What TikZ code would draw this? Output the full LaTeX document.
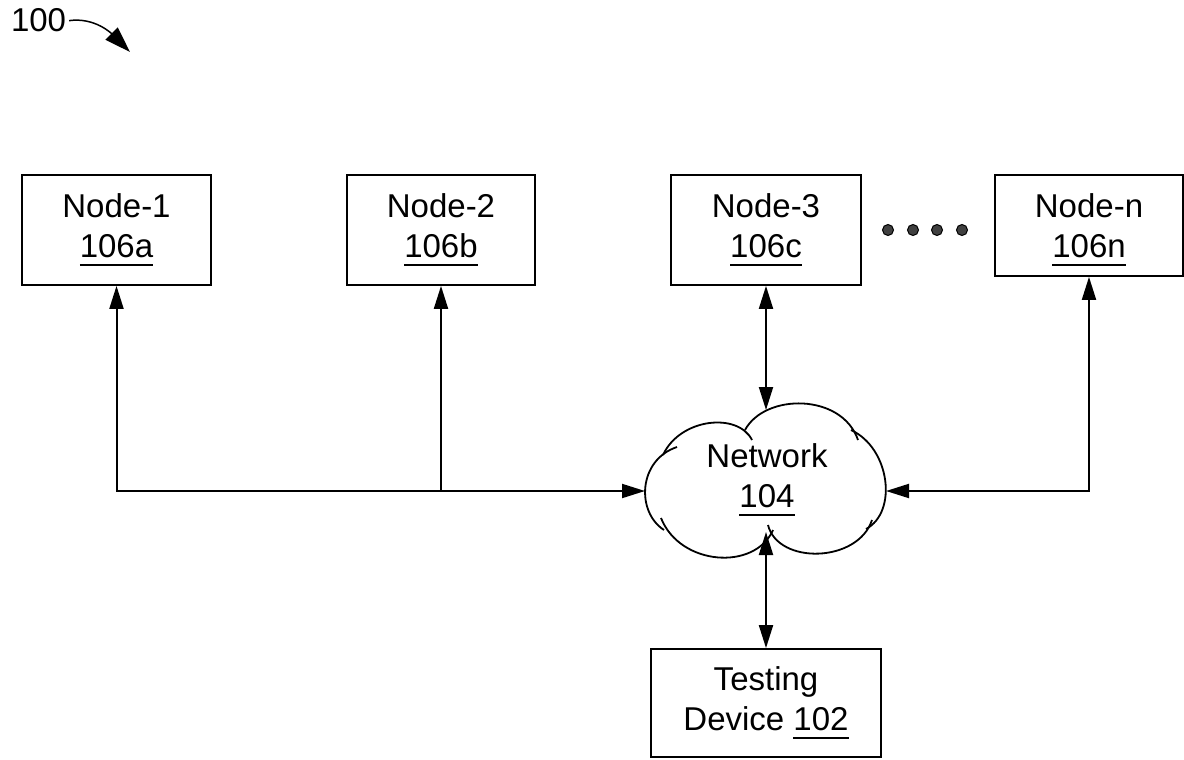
\documentclass[tikz,border=0pt]{standalone}
\usepackage{fontspec}
\setmainfont{Liberation Sans}
\usetikzlibrary{arrows.meta}
\newcommand\myul[1]{\setbox0\hbox{#1}\rlap{\rule[-8pt]{\wd0}{1.8pt}}\box0}
\definecolor{dotgray}{HTML}{404040}
\begin{document}
\begin{tikzpicture}[x=1pt,y=-1pt, line width=2pt,
  lbl/.style={align=center, inner sep=0pt, font=\fontsize{33}{40}\selectfont},
  box/.style={lbl, draw, line width=1.8pt},
  tip/.style={-{Triangle[length=23pt,width=14pt]}},
  both/.style={{Triangle[length=23pt,width=14pt]}-{Triangle[length=23pt,width=14pt]}},
  cloudline/.style={line width=1.8pt}]
\useasboundingbox (0,0) rectangle (1184,760);

% reference label
\node[lbl, anchor=base west] (ref) at (10,32) {100};
\coordinate (reftip) at (130,52);
\draw[line width=1.5pt, -{Triangle[length=26pt,width=17pt]}] (ref.east) ++(2pt,0) .. controls (95,17) and (112,34) .. (reftip);

% nodes
\node[box, minimum width=189pt, minimum height=110pt] (n1) at (116.5,230) {Node-1\\\myul{106a}};
\node[box, minimum width=188pt, minimum height=110pt] (n2) at (441,230) {Node-2\\\myul{106b}};
\node[box, minimum width=190pt, minimum height=110pt] (n3) at (766,230) {Node-3\\\myul{106c}};
\node[box, minimum width=188pt, minimum height=101pt] (nn) at (1089,225.5) {};
\node[lbl] (nntext) at (1089,230) {Node-n\\\myul{106n}};
\node[box, minimum width=230pt, minimum height=108pt] (td) at (766,703) {Testing\\Device \myul{102}};

% dots
\foreach \x in {888,913,937,962}
  \filldraw[fill=dotgray, draw=black, line width=1pt] (\x,230) circle[radius=5.5pt];

% cloud
\begin{scope}[cloudline]
\draw (663,455) .. controls (680,418) and (738,412) .. (752,440);
\draw (745,430) .. controls (765,393) and (842,393) .. (858,440);
\draw (851,430) .. controls (890,448) and (898,512) .. (866,529);
\draw (872,520) .. controls (858,563) and (778,565) .. (768,525);
\draw (773,530) .. controls (755,571) and (680,566) .. (661,518);
\draw (664,530) .. controls (636,512) and (638,460) .. (677,447);
\end{scope}
\node[lbl] (net) at (767,480) {Network\\\myul{104}};
\coordinate (cloudL) at (645,491);
\coordinate (cloudR) at (886,491);
\coordinate (cloudT) at (766,410);
\coordinate (cloudB) at (766,532);

% connectors
\draw[both] (n1.south) |- (cloudL);
\coordinate (j2) at (n2.south |- cloudL);
\draw[tip] (j2) -- (n2.south);
\draw[both] (n3.south) -- (cloudT);
\draw[both] (nn.south) |- (cloudR);
\draw[both] (cloudB) -- (td.north);
\end{tikzpicture}
\end{document}
